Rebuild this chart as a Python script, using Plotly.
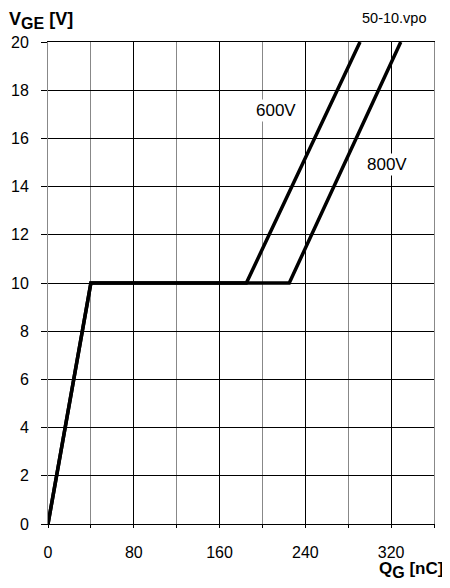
import plotly.graph_objects as go

# data
q_600 = [0, 40, 185, 291]
v_600 = [0, 10, 10, 20]
q_800 = [0, 40, 225, 329]
v_800 = [0, 10, 10, 20]
x_ticks = [0, 80, 160, 240, 320]
y_ticks = [0, 2, 4, 6, 8, 10, 12, 14, 16, 18, 20]
curve_labels = ["600V", "800V"]
label_pos_x = [212.5, 316.5]
label_pos_y = [17.15, 14.9]

FONT = "Liberation Sans, Arial, sans-serif"

fig = go.Figure()
fig.add_trace(go.Scatter(x=q_800, y=v_800, mode="lines",
                         line=dict(color="black", width=3.5), showlegend=False))
fig.add_trace(go.Scatter(x=q_600, y=v_600, mode="lines",
                         line=dict(color="black", width=3.5), showlegend=False))

for t, xx, yy in zip(curve_labels, label_pos_x, label_pos_y):
    fig.add_annotation(x=xx, y=yy, text=t, showarrow=False, bgcolor="white",
                       font=dict(family=FONT, size=17, color="black"), borderpad=1)

fig.add_annotation(xref="paper", yref="paper", x=-0.106, y=1.017, xanchor="left", yanchor="bottom",
                   text="<b>V<sub><span style='font-size:16px'>GE</span></sub> [V]</b>", showarrow=False,
                   font=dict(family=FONT, size=18, color="black"))
fig.add_annotation(xref="paper", yref="paper", x=0.987, y=1.030, xanchor="right", yanchor="bottom",
                   text="50-10.vpo", showarrow=False,
                   font=dict(family=FONT, size=14.5, color="black"))
fig.add_annotation(xref="paper", yref="paper", x=0.852, y=-0.068, xanchor="left", yanchor="top",
                   text="<b>Q<sub><span style='font-size:16px'>G</span></sub> [nC]</b>", showarrow=False,
                   font=dict(family=FONT, size=17, color="black"))

fig.update_xaxes(range=[0, 360], tickvals=x_ticks, showgrid=True, gridcolor="black", gridwidth=1,
                 minor=dict(dtick=40, showgrid=True, gridcolor="#888888", gridwidth=1,
                            ticks="outside", ticklen=3, tickcolor="black"),
                 ticks="outside", ticklen=3, tickcolor="black",
                 showline=True, linecolor="black", linewidth=1, mirror=True,
                 zeroline=False, ticklabelstandoff=11, automargin=False,
                 tickfont=dict(family=FONT, size=16, color="black"))
fig.update_yaxes(range=[0, 20], tickvals=y_ticks, showgrid=True, gridcolor="black", gridwidth=1,
                 ticks="outside", ticklen=6, tickcolor="black",
                 showline=True, linecolor="#888888", linewidth=1, mirror=True,
                 zeroline=False, ticklabelstandoff=9, automargin=False,
                 tickfont=dict(family=FONT, size=16, color="black"))

fig.update_layout(width=442, height=580, margin=dict(l=40, r=16, t=34, b=64),
                  plot_bgcolor="white", paper_bgcolor="white", showlegend=False)

fig.write_html("out.html")
